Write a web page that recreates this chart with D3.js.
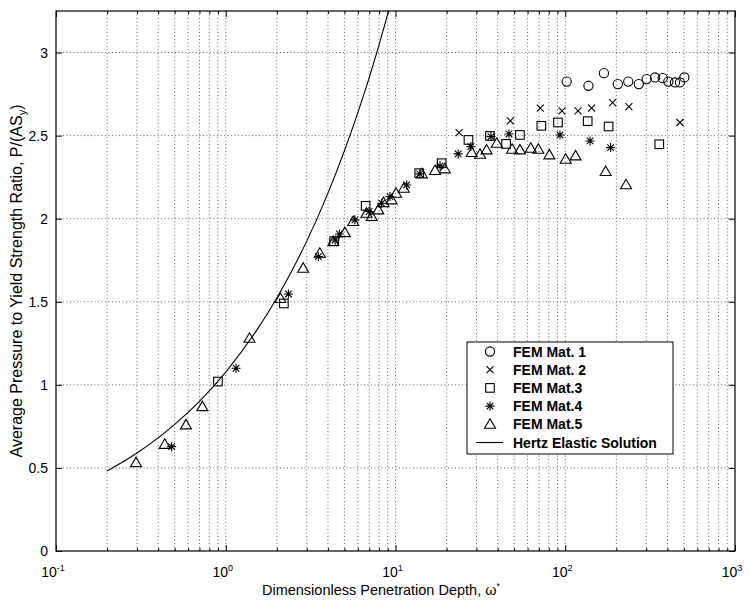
<!DOCTYPE html>
<html><head><meta charset="utf-8">
<script src="https://cdn.jsdelivr.net/npm/d3@7"></script>
<style>
body{margin:0;background:#fff;}
text{font-family:"Liberation Sans",Arial,Helvetica,sans-serif;fill:#000;}
</style></head>
<body><svg id="c" width="749" height="603"></svg>
<script>
// ---- data ----
const mat1X = [102,137,169,204,235,271,302,338,375,405,443,474,503];
const mat1Y = [2.825,2.80,2.876,2.81,2.825,2.81,2.84,2.85,2.846,2.825,2.82,2.82,2.85];

const mat2X = [23.7,47.5,71.3,95.7,119,143,190,237,474];
const mat2Y = [2.518,2.589,2.665,2.649,2.649,2.665,2.699,2.675,2.579];

const mat3X = [0.9,2.2,4.35,6.67,13.8,18.7,26.9,36.0,44.8,54.1,72.3,90.6,135.6,180,358];
const mat3Y = [1.02,1.49,1.865,2.077,2.274,2.334,2.474,2.498,2.450,2.504,2.559,2.579,2.587,2.555,2.448];

const mat4X = [0.48,1.15,2.34,3.51,4.41,4.67,5.77,6.98,8.29,9.28,11.64,13.9,18.3,23.4,27.8,36.5,46.6,93.1,140,185];
const mat4Y = [0.628,1.10,1.547,1.772,1.872,1.908,1.993,2.043,2.093,2.133,2.203,2.27,2.318,2.39,2.434,2.494,2.51,2.504,2.468,2.428];

const mat5X = [0.296,0.437,0.583,0.728,1.38,2.1,2.86,3.58,4.30,5.03,5.64,6.75,7.24,7.92,8.5,9.5,10.07,11.2,14.3,17.1,19.5,28.1,31.5,34.4,39.5,48.6,54.1,62.6,69.4,80.6,100.6,115,173,228];
const mat5Y = [0.532,0.642,0.759,0.869,1.28,1.52,1.702,1.792,1.862,1.916,1.983,2.033,2.013,2.053,2.097,2.113,2.153,2.183,2.27,2.29,2.30,2.398,2.388,2.414,2.454,2.418,2.414,2.424,2.418,2.384,2.358,2.378,2.284,2.204];

const hertzX = [0.2,0.25,0.3,0.4,0.5,0.7,1,1.5,2,2.5,3,4,5,6,7,8,9,9.5];
const hertzY = [0.482,0.539,0.590,0.681,0.762,0.901,1.077,1.319,1.523,1.703,1.865,2.154,2.408,2.638,2.849,3.046,3.231,3.320];

const yTicks = [0,0.5,1,1.5,2,2.5,3];
const xDecades = [0.1,1,10,100,1000];
const xExponents = ["-1","0","1","2","3"];

const legendLabels = ["FEM Mat. 1","FEM Mat. 2","FEM Mat.3","FEM Mat.4","FEM Mat.5","Hertz Elastic Solution"];

// ---- layout ----
const L=56,R=735,T=11,B=551;
const svg=d3.select("#c");
const x=d3.scaleLog().domain([0.1,1000]).range([L,R]);
const y=d3.scaleLinear().domain([0,3.25]).range([B,T]);

const minorX=[];
[0.1,1,10,100].forEach(d=>{for(let k=2;k<=9;k++)minorX.push(d*k);});

// grid
const g=svg.append("g");
g.selectAll(".gx").data(minorX.concat(xDecades.slice(1,4))).enter().append("line")
 .attr("x1",d=>x(d)).attr("x2",d=>x(d)).attr("y1",T).attr("y2",B)
 .attr("stroke","#444").attr("stroke-width",0.8).attr("stroke-dasharray","1,2.5");
g.selectAll(".gy").data(yTicks.slice(1)).enter().append("line")
 .attr("x1",L).attr("x2",R).attr("y1",d=>y(d)).attr("y2",d=>y(d))
 .attr("stroke","#444").attr("stroke-width",0.8).attr("stroke-dasharray","1,2.5");

// axes (ticks inward)
function styleAxis(sel){sel.select(".domain").remove();sel.selectAll("line").attr("stroke","#000");}
const axB=svg.append("g").attr("transform",`translate(0,${B})`)
 .call(d3.axisBottom(x).tickValues(xDecades).tickSize(-6).tickFormat(""));styleAxis(axB);
const axBm=svg.append("g").attr("transform",`translate(0,${B})`)
 .call(d3.axisBottom(x).tickValues(minorX).tickSize(-3).tickFormat(""));styleAxis(axBm);
const axT=svg.append("g").attr("transform",`translate(0,${T})`)
 .call(d3.axisTop(x).tickValues(xDecades).tickSize(-6).tickFormat(""));styleAxis(axT);
const axTm=svg.append("g").attr("transform",`translate(0,${T})`)
 .call(d3.axisTop(x).tickValues(minorX).tickSize(-3).tickFormat(""));styleAxis(axTm);
const axL=svg.append("g").attr("transform",`translate(${L},0)`)
 .call(d3.axisLeft(y).tickValues(yTicks).tickSize(-6).tickPadding(8).tickFormat(d3.format("")));
styleAxis(axL);
axL.selectAll("text").attr("font-size",14).attr("font-family","Liberation Sans, Arial, sans-serif");
const axR=svg.append("g").attr("transform",`translate(${R},0)`)
 .call(d3.axisRight(y).tickValues(yTicks).tickSize(-6).tickFormat(""));styleAxis(axR);

// box
svg.append("rect").attr("x",L).attr("y",T).attr("width",R-L).attr("height",B-T)
 .attr("fill","none").attr("stroke","#000").attr("stroke-width",1.2);

// x tick labels 10^n
xDecades.forEach((d,i)=>{
  const t=svg.append("text").attr("x",x(d)-3).attr("y",B+26).attr("text-anchor","middle").attr("font-size",14);
  t.append("tspan").text("10");
  t.append("tspan").attr("dy",-6).attr("font-size",9).text(xExponents[i]);
});

// axis titles
const xt=svg.append("text").attr("x",381).attr("y",B+44).attr("text-anchor","middle").attr("font-size",14.5);
xt.append("tspan").text("Dimensionless Penetration Depth, ω");
xt.append("tspan").attr("dy",-6).attr("font-size",9).text("*");

const yt=svg.append("text").attr("transform",`translate(22,281) rotate(-90)`).attr("text-anchor","middle").attr("font-size",16);
yt.append("tspan").text("Average Pressure to Yield Strength Ratio, P/(AS");
yt.append("tspan").attr("dy",4).attr("font-size",11).text("y");
yt.append("tspan").attr("dy",-4).text(")");

// clip
svg.append("clipPath").attr("id","clip").append("rect").attr("x",L).attr("y",T).attr("width",R-L).attr("height",B-T);

// Hertz line
const hertz=hertzX.map((v,i)=>[v,hertzY[i]]);
svg.append("path").datum(hertz).attr("clip-path","url(#clip)")
 .attr("d",d3.line().x(d=>x(d[0])).y(d=>y(d[1])).curve(d3.curveMonotoneX))
 .attr("fill","none").attr("stroke","#000").attr("stroke-width",1.1);

// markers
const mk={
 circle:(s,cx,cy)=>s.append("circle").attr("cx",cx).attr("cy",cy).attr("r",4.6),
 cross:(s,cx,cy)=>s.append("path").attr("d",`M${cx-3.5},${cy-3.5}L${cx+3.5},${cy+3.5}M${cx-3.5},${cy+3.5}L${cx+3.5},${cy-3.5}`),
 square:(s,cx,cy)=>s.append("rect").attr("x",cx-4.3).attr("y",cy-4.3).attr("width",8.6).attr("height",8.6),
 star:(s,cx,cy)=>s.append("path").attr("d",`M${cx-4.5},${cy}L${cx+4.5},${cy}M${cx},${cy-4.5}L${cx},${cy+4.5}M${cx-3.3},${cy-3.3}L${cx+3.3},${cy+3.3}M${cx-3.3},${cy+3.3}L${cx+3.3},${cy-3.3}`),
 tri:(s,cx,cy)=>s.append("path").attr("d",`M${cx},${cy-5.5}L${cx+5.5},${cy+4}L${cx-5.5},${cy+4}Z`)
};
const series=[[mat1X,mat1Y,"circle"],[mat2X,mat2Y,"cross"],[mat3X,mat3Y,"square"],[mat4X,mat4Y,"star"],[mat5X,mat5Y,"tri"]];
const mg=svg.append("g").attr("fill","none").attr("stroke","#000").attr("stroke-width",1.1);
series.forEach(([xs,ys,shape])=>{
  xs.forEach((v,i)=>mk[shape](mg,x(v),y(ys[i])));
});

// legend
const lg=svg.append("g");
lg.append("rect").attr("x",467).attr("y",342).attr("width",206).attr("height",112)
 .attr("fill","#fff").attr("stroke","#000").attr("stroke-width",1);
const lgm=lg.append("g").attr("fill","none").attr("stroke","#000").attr("stroke-width",1.1);
const shapes=["circle","cross","square","star","tri"];
legendLabels.forEach((lab,i)=>{
  const cy=351.5+i*18.2;
  if(i<5) mk[shapes[i]](lgm,490,cy);
  else lgm.append("line").attr("x1",476).attr("x2",503).attr("y1",cy).attr("y2",cy);
  lg.append("text").attr("x",513).attr("y",cy+5).attr("font-size",14).attr("font-weight","bold").text(lab);
});
</script></body></html>
